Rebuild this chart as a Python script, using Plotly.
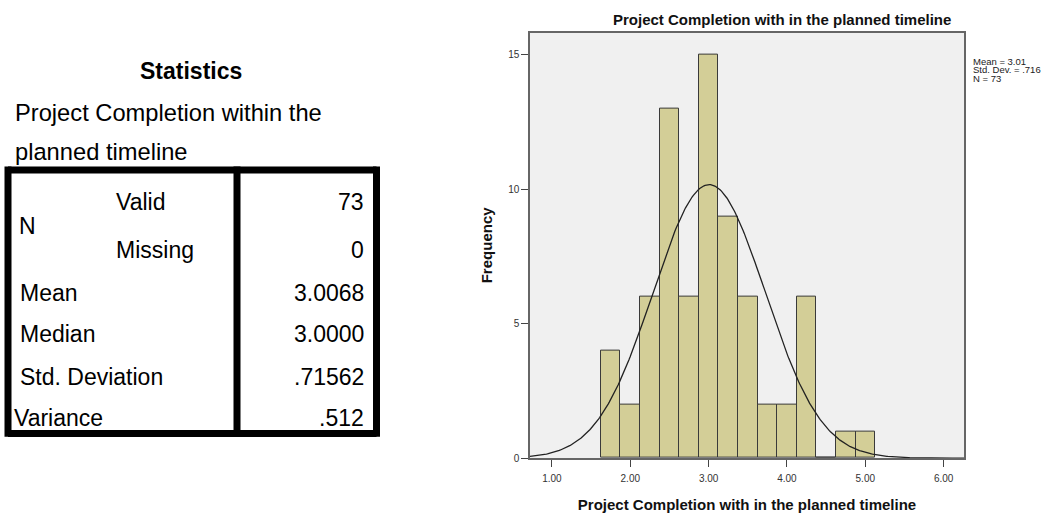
import numpy as np
import plotly.graph_objects as go

# ---------------- data ----------------
bin_centers = [1.75, 2.00, 2.25, 2.50, 2.75, 3.00, 3.25, 3.50, 3.75, 4.00, 4.25, 4.50, 4.75, 5.00]
frequencies = [4, 2, 6, 13, 6, 15, 9, 6, 2, 2, 6, 0, 1, 1]
bin_width = 0.25
mean_val = 3.0068
sd_val = 0.71562
n_val = 73

x_tick_vals = [1, 2, 3, 4, 5, 6]
x_tick_text = ["1.00", "2.00", "3.00", "4.00", "5.00", "6.00"]
y_tick_vals = [0, 5, 10, 15]

table_labels = ["Valid", "Missing", "Mean", "Median", "Std. Deviation", "Variance"]
table_values = ["73", "0", "3.0068", "3.0000", ".71562", ".512"]
legend_lines = ["Mean = 3.01", "Std. Dev. = .716", "N = 73"]

W, H = 1059, 514
FONT = "Liberation Sans, Arial, sans-serif"


def px(x):
    return x / W


def py(y):
    return 1 - y / H


fig = go.Figure()

fig.add_trace(go.Bar(
    x=bin_centers, y=frequencies, width=bin_width,
    marker=dict(color="#d3ce97", line=dict(color="#3a3a3a", width=1)),
    showlegend=False, hoverinfo="x+y",
))

# fitted normal curve from the stated statistics
xc = np.linspace(0.72, 6.26, 400)
yc = n_val * bin_width * np.exp(-0.5 * ((xc - mean_val) / sd_val) ** 2) / (sd_val * np.sqrt(2 * np.pi))
fig.add_trace(go.Scatter(x=xc, y=yc, mode="lines", line=dict(color="#222222", width=1.3),
                         showlegend=False, hoverinfo="skip"))

plot_l, plot_r, plot_t, plot_b = 530, 964, 33, 463.5

fig.update_layout(
    width=W, height=H,
    margin=dict(l=0, r=0, t=0, b=0),
    paper_bgcolor="white",
    plot_bgcolor="#f0f0f0",
    font=dict(family=FONT, color="#222"),
    bargap=0,
    xaxis=dict(domain=[px(plot_l), px(plot_r)], range=[0.72, 6.26],
               tickvals=x_tick_vals, ticktext=x_tick_text,
               ticks="outside", ticklen=7, tickcolor="#444", tickwidth=1,
               ticklabelstandoff=3,
               tickfont=dict(size=10, color="#333"),
               showline=True, linecolor="#666", linewidth=1.5, mirror=True,
               showgrid=False, zeroline=False,
               title=dict(text="<b>Project Completion with in the planned timeline</b>",
                          font=dict(size=15, color="#111"), standoff=17)),
    yaxis=dict(domain=[py(plot_b), py(plot_t)], range=[0, 15.83],
               tickvals=y_tick_vals, ticks="outside", ticklen=7, tickcolor="#444", tickwidth=1,
               tickfont=dict(size=10, color="#333"),
               showline=True, linecolor="#666", linewidth=1.5, mirror=True,
               showgrid=False, zeroline=False,
               title=dict(text="<b>Frequency</b>", font=dict(size=15, color="#111"), standoff=12)),
)

annotations = []
# chart title
annotations.append(dict(x=px(782), y=py(20), xref="paper", yref="paper",
                        text="<b>Project Completion with in the planned timeline</b>",
                        showarrow=False, xanchor="center", yanchor="middle",
                        font=dict(size=15, color="#111")))
# legend text
for i, line in enumerate(legend_lines):
    annotations.append(dict(x=px(971), y=py(62 + 8.5 * i), xref="paper", yref="paper",
                            text=line, showarrow=False, xanchor="left", yanchor="middle",
                            font=dict(size=9.5, color="#222")))

# ---------------- statistics table ----------------
TS = 23
annotations.append(dict(x=px(191), y=py(72), xref="paper", yref="paper", text="<b>Statistics</b>",
                        showarrow=False, xanchor="center", yanchor="middle",
                        font=dict(size=TS, color="#000")))
annotations.append(dict(x=px(13), y=py(114), xref="paper", yref="paper",
                        text="Project Completion within the",
                        showarrow=False, xanchor="left", yanchor="middle",
                        font=dict(size=TS + 0.7, color="#000")))
annotations.append(dict(x=px(13), y=py(154), xref="paper", yref="paper",
                        text="planned timeline",
                        showarrow=False, xanchor="left", yanchor="middle",
                        font=dict(size=TS + 0.7, color="#000")))
annotations.append(dict(x=px(17), y=py(229), xref="paper", yref="paper", text="N",
                        showarrow=False, xanchor="left", yanchor="middle",
                        font=dict(size=TS, color="#000")))

row_y = [204, 253, 296, 338, 381, 423]
label_x = [114, 114, 18, 18, 18, 12]
for lab, val, yy, lx in zip(table_labels, table_values, row_y, label_x):
    annotations.append(dict(x=px(lx), y=py(yy), xref="paper", yref="paper", text=lab,
                            showarrow=False, xanchor="left", yanchor="middle",
                            font=dict(size=TS, color="#000")))
    annotations.append(dict(x=px(366), y=py(yy), xref="paper", yref="paper", text=val,
                            showarrow=False, xanchor="right", yanchor="middle",
                            font=dict(size=TS, color="#000")))

shapes = []
lw = 7
for (x0, y0, x1, y1) in [(8, 172, 376.5, 172), (8, 438.5, 376.5, 438.5),
                         (8, 168.5, 8, 442), (376.5, 168.5, 376.5, 442),
                         (237, 168.5, 237, 442)]:
    shapes.append(dict(type="line", xref="paper", yref="paper",
                       x0=px(x0), y0=py(y0), x1=px(x1), y1=py(y1),
                       line=dict(color="#000", width=lw)))

fig.update_layout(annotations=annotations, shapes=shapes)

fig.write_html("out.html", config={"displayModeBar": False},
               post_script="document.body.style.margin='0';")
